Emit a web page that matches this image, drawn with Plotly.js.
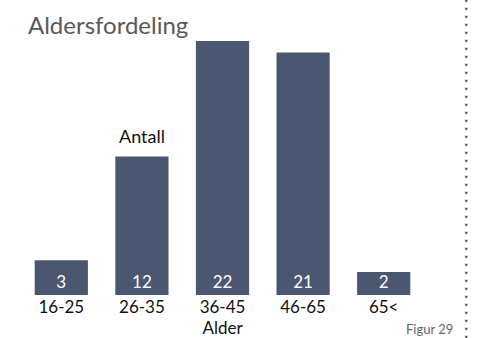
<!DOCTYPE html>
<html><head><meta charset="utf-8">
<script src="https://cdn.plot.ly/plotly-3.0.1.min.js"></script>
<style>html,body{margin:0;padding:0;background:#fff}#chart{width:496px;height:338px}</style>
</head><body><div id="chart"></div>
<script>
const categories = ["16-25", "26-35", "36-45", "46-65", "65<"];
const counts = [3, 12, 22, 21, 2];
const chartTitle = "Aldersfordeling";
const yTitle = "Antall";
const xTitle = "Alder";
const figureLabel = "Figur 29";

const FONT = "Lato, 'Open Sans', sans-serif";
const trace = {
  type: "bar",
  x: categories,
  y: counts,
  marker: {color: "#4b5671"},
  text: counts.map(String),
  textposition: "inside",
  insidetextanchor: "start",
  constraintext: "none",
  textangle: 0,
  insidetextfont: {color: "#ffffff", size: 17, family: FONT},
  hoverinfo: "skip"
};
const layout = {
  width: 496, height: 338,
  margin: {l: 21, r: 72, t: 41, b: 43},
  paper_bgcolor: "#fff", plot_bgcolor: "#fff",
  bargap: 0.34,
  showlegend: false,
  font: {family: FONT, color: "#000"},
  xaxis: {
    type: "category",
    showline: false, showgrid: false, zeroline: false, ticks: "",
    tickfont: {size: 17, color: "#111"},
    title: {text: xTitle, font: {size: 17, color: "#111"}, standoff: 2}
  },
  yaxis: {range: [0, 22], visible: false, fixedrange: true},
  annotations: [
    {xref: "paper", yref: "paper", x: 0.012, y: 1.063, xanchor: "left", yanchor: "middle",
     text: chartTitle, showarrow: false, font: {size: 24, color: "#595959"}},
    {xref: "x", yref: "y", x: 1, y: 12, yanchor: "bottom", yshift: 7,
     text: yTitle, showarrow: false, font: {size: 18, color: "#111"}},
    {xref: "paper", yref: "paper", x: 1.077, y: -0.135, xanchor: "right", yanchor: "middle",
     text: figureLabel, showarrow: false, font: {size: 13, color: "#666"}}
  ],
  shapes: [
    {type: "line", xref: "paper", yref: "paper", x0: 1.105, x1: 1.105, y0: -0.2, y1: 1.2,
     line: {color: "#333", width: 2, dash: "2px,6px"}}
  ]
};
Plotly.newPlot("chart", [trace], layout, {displayModeBar: false, staticPlot: true});
</script></body></html>
